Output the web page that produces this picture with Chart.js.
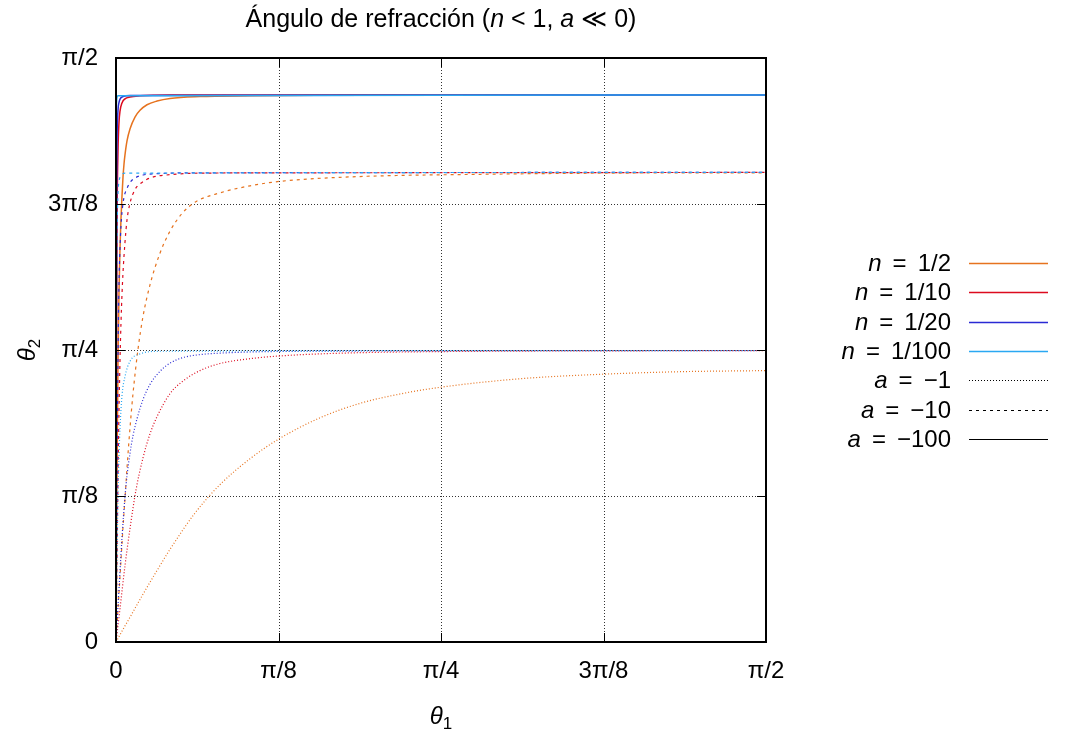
<!DOCTYPE html>
<html>
<head>
<meta charset="utf-8">
<script src="https://cdn.jsdelivr.net/npm/chart.js@4.4.1/dist/chart.umd.min.js"></script>
<style>
  html, body { margin: 0; padding: 0; background: #fff; }
</style>
</head>
<body>
<canvas id="chart" width="1073" height="736"></canvas>
<script>
// Axis ticks (radians) and their labels
const tickValues = [0, Math.PI / 8, Math.PI / 4, 3 * Math.PI / 8, Math.PI / 2];
const tickLabels = ['0', 'π/8', 'π/4', '3π/8', 'π/2'];

// Legend text
const nLabels = ['1/2', '1/10', '1/20', '1/100'];
const aLabels = ['−1', '−10', '−100'];
const nColors = ['#e6731f', '#dc0a1e', '#2a2ad4', '#2aa8f2'];

// n = 1/2
const t1_n2_a1 = [0, 0.017, 0.034, 0.065, 0.099, 0.131, 0.191, 0.251, 0.324, 0.392, 0.493, 0.590, 0.686, 0.783, 0.976, 1.170, 1.363, 1.571];
const t2_n2_a1 = [0, 0.034, 0.067, 0.128, 0.192, 0.250, 0.347, 0.423, 0.493, 0.545, 0.603, 0.642, 0.667, 0.685, 0.708, 0.720, 0.727, 0.730];
const t1_n2_a10 = [0, 0.005, 0.010, 0.017, 0.022, 0.027, 0.034, 0.041, 0.053, 0.065, 0.082, 0.106, 0.131, 0.160, 0.191, 0.251, 0.324, 0.396, 0.566, 0.880, 1.170, 1.571];
const t2_n2_a10 = [0, 0.092, 0.182, 0.310, 0.390, 0.475, 0.578, 0.667, 0.786, 0.874, 0.960, 1.045, 1.106, 1.153, 1.183, 1.208, 1.227, 1.239, 1.251, 1.258, 1.261, 1.262];
const t1_n2_a100 = [0, 0.0024, 0.0048, 0.0072, 0.0097, 0.0121, 0.0145, 0.0169, 0.0193, 0.0217, 0.0266, 0.0338, 0.0459, 0.058, 0.0749, 0.0991, 0.1305, 0.203, 0.3238, 0.5655, 1.571];
const t2_n2_a100 = [0, 0.44, 0.75, 0.94, 1.06, 1.14, 1.20, 1.25, 1.285, 1.31, 1.348, 1.38, 1.412, 1.43, 1.445, 1.455, 1.462, 1.467, 1.469, 1.471, 1.471];

// n = 1/10
const t1_n10_a1 = [0, 0.0097, 0.0217, 0.0338, 0.0483, 0.0652, 0.0822, 0.0991, 0.1305, 0.1619, 0.203, 0.2513, 0.3238, 0.3915, 0.493, 0.6863, 1.571];
const t2_n10_a1 = [0, 0.090, 0.205, 0.305, 0.409, 0.495, 0.560, 0.606, 0.668, 0.702, 0.730, 0.749, 0.762, 0.769, 0.775, 0.780, 0.784];
const t1_n10_a10 = [0, 0.0024, 0.0048, 0.0072, 0.0097, 0.0121, 0.0145, 0.0169, 0.0217, 0.0266, 0.0338, 0.0459, 0.058, 0.0822, 0.1305, 0.203, 0.4447, 1.571];
const t2_n10_a10 = [0, 0.228, 0.44, 0.62, 0.76, 0.86, 0.935, 0.993, 1.075, 1.135, 1.18, 1.217, 1.232, 1.248, 1.257, 1.261, 1.262, 1.263];
const t1_n10_a100 = [0, 0.0012, 0.0024, 0.0048, 0.0072, 0.0097, 0.0145, 0.0217, 0.0338, 0.058, 0.1305, 1.571];
const t2_n10_a100 = [0, 0.76, 1.11, 1.32, 1.397, 1.428, 1.45, 1.461, 1.466, 1.469, 1.471, 1.471];

// n = 1/20
const t1_n20_a1 = [0, 0.0048, 0.0097, 0.0145, 0.0217, 0.0266, 0.0338, 0.0411, 0.0507, 0.0652, 0.0822, 0.1063, 0.1305, 0.1619, 0.203, 0.2513, 0.4447, 1.571];
const t2_n20_a1 = [0, 0.096, 0.19, 0.28, 0.39, 0.447, 0.507, 0.555, 0.600, 0.652, 0.693, 0.728, 0.750, 0.765, 0.773, 0.777, 0.782, 0.784];
const t1_n20_a10 = [0, 0.0012, 0.0024, 0.0048, 0.0072, 0.0097, 0.0121, 0.0145, 0.0193, 0.0266, 0.0338, 0.0459, 0.0652, 0.1063, 0.203, 1.571];
const t2_n20_a10 = [0, 0.228, 0.44, 0.765, 0.96, 1.06, 1.12, 1.156, 1.196, 1.22, 1.236, 1.248, 1.256, 1.26, 1.262, 1.263];
const t1_n20_a100 = [0, 0.0007, 0.0015, 0.0024, 0.0048, 0.0072, 0.0097, 0.0169, 0.0338, 1.571];
const t2_n20_a100 = [0, 0.80, 1.21, 1.347, 1.43, 1.451, 1.46, 1.467, 1.47, 1.471];

// n = 1/100
const t1_n100_a1 = [0, 0.0024, 0.0048, 0.0072, 0.0097, 0.0145, 0.0217, 0.0338, 0.058, 0.1063, 1.571];
const t2_n100_a1 = [0, 0.225, 0.395, 0.50, 0.575, 0.663, 0.714, 0.755, 0.775, 0.782, 0.784];
const t1_n100_a10 = [0, 0.0007, 0.0015, 0.0024, 0.0048, 0.0072, 0.0121, 0.0217, 1.571];
const t2_n100_a10 = [0, 0.56, 0.89, 1.07, 1.204, 1.238, 1.254, 1.261, 1.263];
const t1_n100_a100 = [0, 0.0002, 0.0007, 0.0015, 0.0024, 0.0048, 1.571];
const t2_n100_a100 = [0, 1.0, 1.40, 1.455, 1.465, 1.469, 1.471];

// line style per a value: dotted, dashed, solid
const aDash = [[1, 2], [3, 4], []];
const aWidth = [1.2, 1.2, 1.5];

const curves = [
  [0, 0, t1_n2_a1, t2_n2_a1], [0, 1, t1_n2_a10, t2_n2_a10], [0, 2, t1_n2_a100, t2_n2_a100],
  [1, 0, t1_n10_a1, t2_n10_a1], [1, 1, t1_n10_a10, t2_n10_a10], [1, 2, t1_n10_a100, t2_n10_a100],
  [2, 0, t1_n20_a1, t2_n20_a1], [2, 1, t1_n20_a10, t2_n20_a10], [2, 2, t1_n20_a100, t2_n20_a100],
  [3, 0, t1_n100_a1, t2_n100_a1], [3, 1, t1_n100_a10, t2_n100_a10], [3, 2, t1_n100_a100, t2_n100_a100]
];

const FONT = '"Liberation Sans", Arial, sans-serif';

const datasets = curves.map(([ni, ai, xs, ys], i) => ({
  data: xs.map((x, k) => ({ x: x, y: ys[k] })),
  borderColor: nColors[ni],
  borderWidth: aWidth[ai],
  borderDash: aDash[ai],
  pointRadius: 0,
  fill: false,
  cubicInterpolationMode: 'monotone',
  order: curves.length - i
}));

// text pieces: [text, italic, size, dy, extra gap after]
function pieceWidth(ctx, p) {
  ctx.font = (p[1] ? 'italic ' : '') + p[2] + 'px ' + FONT;
  return ctx.measureText(p[0]).width + (p[4] || 0);
}
function drawPieces(ctx, pieces, x, y) {
  pieces.forEach(p => {
    ctx.font = (p[1] ? 'italic ' : '') + p[2] + 'px ' + FONT;
    ctx.fillText(p[0], x, y + (p[3] || 0));
    x += ctx.measureText(p[0]).width + (p[4] || 0);
  });
}
function totalWidth(ctx, pieces) {
  return pieces.reduce((s, p) => s + pieceWidth(ctx, p), 0);
}

const decor = {
  id: 'decor',
  beforeDatasetsDraw(chart) {
    const { ctx, chartArea: a, scales: { x, y } } = chart;
    ctx.save();
    ctx.strokeStyle = '#333';
    ctx.lineWidth = 1;
    ctx.setLineDash([1, 2]);
    tickValues.slice(1, -1).forEach(v => {
      const px = Math.round(x.getPixelForValue(v)) + 0.5;
      ctx.beginPath(); ctx.moveTo(px, a.top); ctx.lineTo(px, a.bottom); ctx.stroke();
      const py = Math.round(y.getPixelForValue(v)) + 0.5;
      ctx.beginPath(); ctx.moveTo(a.left, py); ctx.lineTo(a.right, py); ctx.stroke();
    });
    ctx.restore();
  },
  afterDatasetsDraw(chart) {
    const { ctx, chartArea: a, scales: { x, y } } = chart;
    ctx.save();
    ctx.strokeStyle = '#000';
    ctx.lineWidth = 2;
    ctx.strokeRect(a.left, a.top, a.right - a.left, a.bottom - a.top);
    ctx.lineWidth = 1;
    tickValues.forEach(v => {
      const px = Math.round(x.getPixelForValue(v)) + 0.5;
      ctx.beginPath();
      ctx.moveTo(px, a.bottom); ctx.lineTo(px, a.bottom - 9);
      ctx.moveTo(px, a.top); ctx.lineTo(px, a.top + 9);
      ctx.stroke();
      const py = Math.round(y.getPixelForValue(v)) + 0.5;
      ctx.beginPath();
      ctx.moveTo(a.left, py); ctx.lineTo(a.left + 9, py);
      ctx.moveTo(a.right, py); ctx.lineTo(a.right - 9, py);
      ctx.stroke();
    });
    ctx.restore();
  },
  afterDraw(chart) {
    const { ctx, chartArea: a } = chart;
    ctx.save();
    ctx.fillStyle = '#000';
    ctx.textBaseline = 'alphabetic';

    // title
    const title = [['Ángulo de refracción (', false, 25], ['n', true, 25], [' < 1, ', false, 25], ['a', true, 25], [' ≪ 0)', false, 25]];
    const cx = (a.left + a.right) / 2;
    drawPieces(ctx, title, cx - totalWidth(ctx, title) / 2, 27);

    // x axis label
    const xl = [['θ', true, 24], ['1', false, 17, 5]];
    drawPieces(ctx, xl, cx - totalWidth(ctx, xl) / 2, 724);

    // y axis label (rotated)
    const yl = [['θ', true, 24], ['2', false, 17, 5]];
    ctx.save();
    ctx.translate(35, (a.top + a.bottom) / 2);
    ctx.rotate(-Math.PI / 2);
    drawPieces(ctx, yl, -totalWidth(ctx, yl) / 2, 0);
    ctx.restore();

    // legend
    const rows = nLabels.map((t, i) => ({ v: 'n', t: t, color: nColors[i], dash: [], w: 1.5 }))
      .concat(aLabels.map((t, i) => ({ v: 'a', t: t, color: '#000', dash: aDash[i], w: 1.2 })));
    rows.forEach((r, i) => {
      const yy = 263 + i * 29.3;
      const pcs = [[r.v, true, 24, 0, 11], ['=', false, 24, 0, 11], [r.t, false, 24]];
      drawPieces(ctx, pcs, 951 - totalWidth(ctx, pcs), yy + 8);
      ctx.strokeStyle = r.color;
      ctx.lineWidth = r.w;
      ctx.setLineDash(r.dash);
      ctx.beginPath();
      ctx.moveTo(969, Math.round(yy) + 0.5);
      ctx.lineTo(1048, Math.round(yy) + 0.5);
      ctx.stroke();
      ctx.setLineDash([]);
    });
    ctx.restore();
  }
};

new Chart(document.getElementById('chart'), {
  type: 'line',
  data: { datasets: datasets },
  plugins: [decor],
  options: {
    responsive: false,
    animation: false,
    layout: { padding: { top: 58, right: 307, bottom: 0, left: 0 } },
    plugins: { legend: { display: false }, title: { display: false }, tooltip: { enabled: false } },
    scales: {
      x: {
        type: 'linear',
        min: 0,
        max: Math.PI / 2,
        afterBuildTicks: s => { s.ticks = tickValues.map(v => ({ value: v })); },
        afterFit: s => { s.height = 94; },
        grid: { display: false, drawTicks: false },
        border: { display: false },
        ticks: {
          autoSkip: false,
          maxRotation: 0,
          padding: 15,
          color: '#000',
          font: { family: FONT, size: 24 },
          callback: (v, i) => tickLabels[i]
        }
      },
      y: {
        type: 'linear',
        min: 0,
        max: Math.PI / 2,
        afterBuildTicks: s => { s.ticks = tickValues.map(v => ({ value: v })); },
        afterFit: s => { s.width = 116; },
        grid: { display: false, drawTicks: false },
        border: { display: false },
        ticks: {
          autoSkip: false,
          padding: 18,
          color: '#000',
          font: { family: FONT, size: 24 },
          callback: (v, i) => tickLabels[i]
        }
      }
    }
  }
});
</script>
</body>
</html>
